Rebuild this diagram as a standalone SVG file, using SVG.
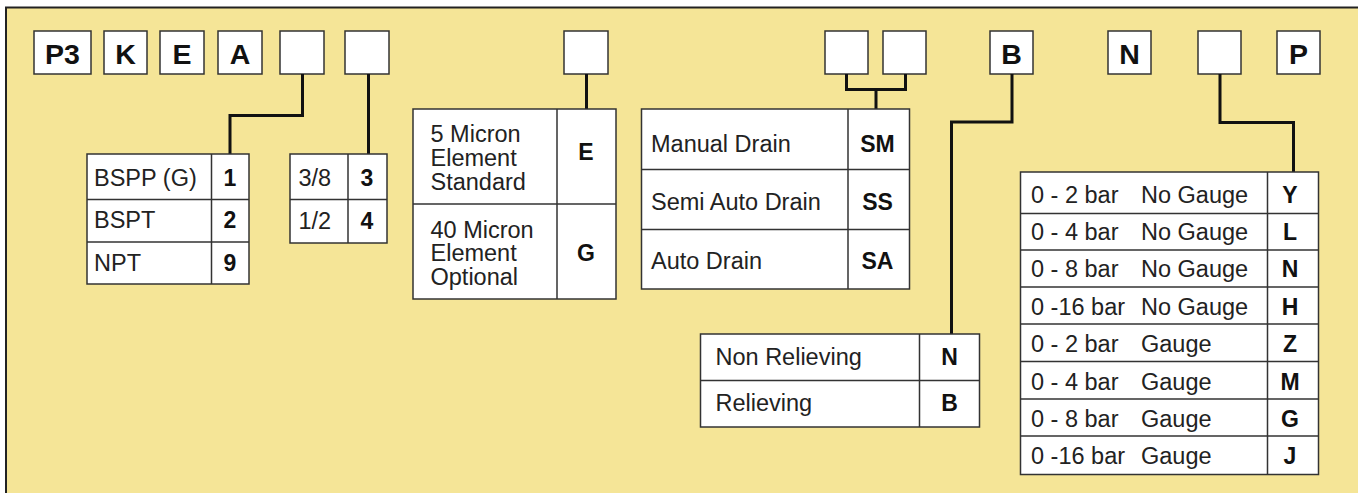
<svg xmlns="http://www.w3.org/2000/svg" width="1358" height="493" viewBox="0 0 1358 493">
<style>
.bg{fill:#F5E597;stroke:#222;stroke-width:2}
.box{fill:#fff;stroke:#333;stroke-width:1.5}
.ln{fill:none;stroke:#333;stroke-width:1.5}
.con{fill:none;stroke:#111;stroke-width:3}
.hd{font-family:"Liberation Sans",Arial,sans-serif;font-weight:bold;font-size:28.5px;fill:#111;text-anchor:middle}
.lb{font-family:"Liberation Sans",Arial,sans-serif;font-size:23.5px;fill:#222}
.cd{font-family:"Liberation Sans",Arial,sans-serif;font-weight:bold;font-size:23px;fill:#111;text-anchor:middle}
</style>
<rect class="bg" x="6" y="7.5" width="1360" height="495"/>
<g id="header">
<g id="h-p3"><rect class="box" x="34" y="31" width="57" height="43"/><text class="hd" x="62.5" y="63.5">P3</text></g>
<g id="h-k"><rect class="box" x="104" y="31" width="43" height="43"/><text class="hd" x="125.5" y="63.5">K</text></g>
<g id="h-e"><rect class="box" x="160" y="31" width="44" height="43"/><text class="hd" x="182" y="63.5">E</text></g>
<g id="h-a"><rect class="box" x="218" y="31" width="44" height="43"/><text class="hd" x="240" y="63.5">A</text></g>
<g id="h-b1"><rect class="box" x="280" y="31" width="44" height="43"/></g>
<g id="h-b2"><rect class="box" x="345" y="31" width="44" height="43"/></g>
<g id="h-b3"><rect class="box" x="564" y="31" width="44" height="43"/></g>
<g id="h-b4"><rect class="box" x="825" y="31" width="43" height="43"/></g>
<g id="h-b5"><rect class="box" x="883" y="31" width="43" height="43"/></g>
<g id="h-b"><rect class="box" x="990" y="31" width="43" height="43"/><text class="hd" x="1011.5" y="63.5">B</text></g>
<g id="h-n"><rect class="box" x="1108" y="31" width="43" height="43"/><text class="hd" x="1129.5" y="63.5">N</text></g>
<g id="h-b6"><rect class="box" x="1198" y="31" width="43" height="43"/></g>
<g id="h-p"><rect class="box" x="1277" y="31" width="43" height="43"/><text class="hd" x="1298.5" y="63.5">P</text></g>
</g>
<g id="connectors">
<polyline class="con" points="302.5,74 302.5,115.5 230,115.5 230,154"/>
<polyline class="con" points="368.5,74 368.5,154"/>
<polyline class="con" points="586.5,74 586.5,109"/>
<polyline class="con" points="846.5,74 846.5,89.5 905.5,89.5 905.5,74"/>
<polyline class="con" points="876,89.5 876,109"/>
<polyline class="con" points="1012,74 1012,122 951.5,122 951.5,334"/>
<polyline class="con" points="1220,74 1220,122.5 1293.5,122.5 1293.5,172"/>
</g>
<g id="t-thread">
<rect class="box" x="87" y="154" width="162" height="130"/>
<path class="ln" d="M211.5 154V284M87 199.5H249M87 242H249"/>
<text class="lb" x="94" y="186">BSPP (G)</text><text class="cd" x="230" y="186">1</text>
<text class="lb" x="94" y="228">BSPT</text><text class="cd" x="230" y="228">2</text>
<text class="lb" x="94" y="271">NPT</text><text class="cd" x="230" y="271">9</text>
</g>
<g id="t-port">
<rect class="box" x="290" y="154" width="97" height="89"/>
<path class="ln" d="M348 154V243M290 199.5H387"/>
<text class="lb" x="298.5" y="186">3/8</text><text class="cd" x="367" y="186">3</text>
<text class="lb" x="298.5" y="229">1/2</text><text class="cd" x="367" y="229">4</text>
</g>
<g id="t-element">
<rect class="box" x="413" y="109" width="203" height="190"/>
<path class="ln" d="M557 109V299M413 204H616"/>
<text class="lb" x="430.5" y="141.5">5 Micron</text>
<text class="lb" x="430.5" y="165.5">Element</text>
<text class="lb" x="430.5" y="190">Standard</text>
<text class="cd" x="586" y="159.5">E</text>
<text class="lb" x="430.5" y="237.5">40 Micron</text>
<text class="lb" x="430.5" y="261">Element</text>
<text class="lb" x="430.5" y="285">Optional</text>
<text class="cd" x="586" y="261">G</text>
</g>
<g id="t-drain">
<rect class="box" x="641.5" y="109" width="268" height="180"/>
<path class="ln" d="M848 109V289M641.5 169.5H909.5M641.5 229.5H909.5"/>
<text class="lb" x="651" y="151.5">Manual Drain</text><text class="cd" x="877.5" y="151.5">SM</text>
<text class="lb" x="651" y="210">Semi Auto Drain</text><text class="cd" x="877.5" y="210">SS</text>
<text class="lb" x="651" y="268.5">Auto Drain</text><text class="cd" x="877.5" y="268.5">SA</text>
</g>
<g id="t-relief">
<rect class="box" x="700.5" y="334" width="279" height="93"/>
<path class="ln" d="M919.5 334V427M700.5 380.5H979.5"/>
<text class="lb" x="715.5" y="365">Non Relieving</text><text class="cd" x="949.5" y="365">N</text>
<text class="lb" x="715.5" y="411">Relieving</text><text class="cd" x="949.5" y="411">B</text>
</g>
<g id="t-gauge">
<rect class="box" x="1020.5" y="172" width="298" height="302.5"/>
<path class="ln" d="M1267.5 172V474.5M1020.5 213.5H1318.5M1020.5 250H1318.5M1020.5 287H1318.5M1020.5 324H1318.5M1020.5 361.5H1318.5M1020.5 399H1318.5M1020.5 436H1318.5"/>
<text class="lb" x="1031" y="202.5">0 - 2 bar</text><text class="lb" x="1141" y="202.5">No Gauge</text><text class="cd" x="1290" y="202.5">Y</text>
<text class="lb" x="1031" y="240">0 - 4 bar</text><text class="lb" x="1141" y="240">No Gauge</text><text class="cd" x="1290" y="240">L</text>
<text class="lb" x="1031" y="277">0 - 8 bar</text><text class="lb" x="1141" y="277">No Gauge</text><text class="cd" x="1290" y="277">N</text>
<text class="lb" x="1031" y="314.5">0 -16 bar</text><text class="lb" x="1141" y="314.5">No Gauge</text><text class="cd" x="1290" y="314.5">H</text>
<text class="lb" x="1031" y="352">0 - 2 bar</text><text class="lb" x="1141" y="352">Gauge</text><text class="cd" x="1290" y="352">Z</text>
<text class="lb" x="1031" y="389.5">0 - 4 bar</text><text class="lb" x="1141" y="389.5">Gauge</text><text class="cd" x="1290" y="389.5">M</text>
<text class="lb" x="1031" y="427">0 - 8 bar</text><text class="lb" x="1141" y="427">Gauge</text><text class="cd" x="1290" y="427">G</text>
<text class="lb" x="1031" y="463.5">0 -16 bar</text><text class="lb" x="1141" y="463.5">Gauge</text><text class="cd" x="1290" y="463.5">J</text>
</g>
</svg>
